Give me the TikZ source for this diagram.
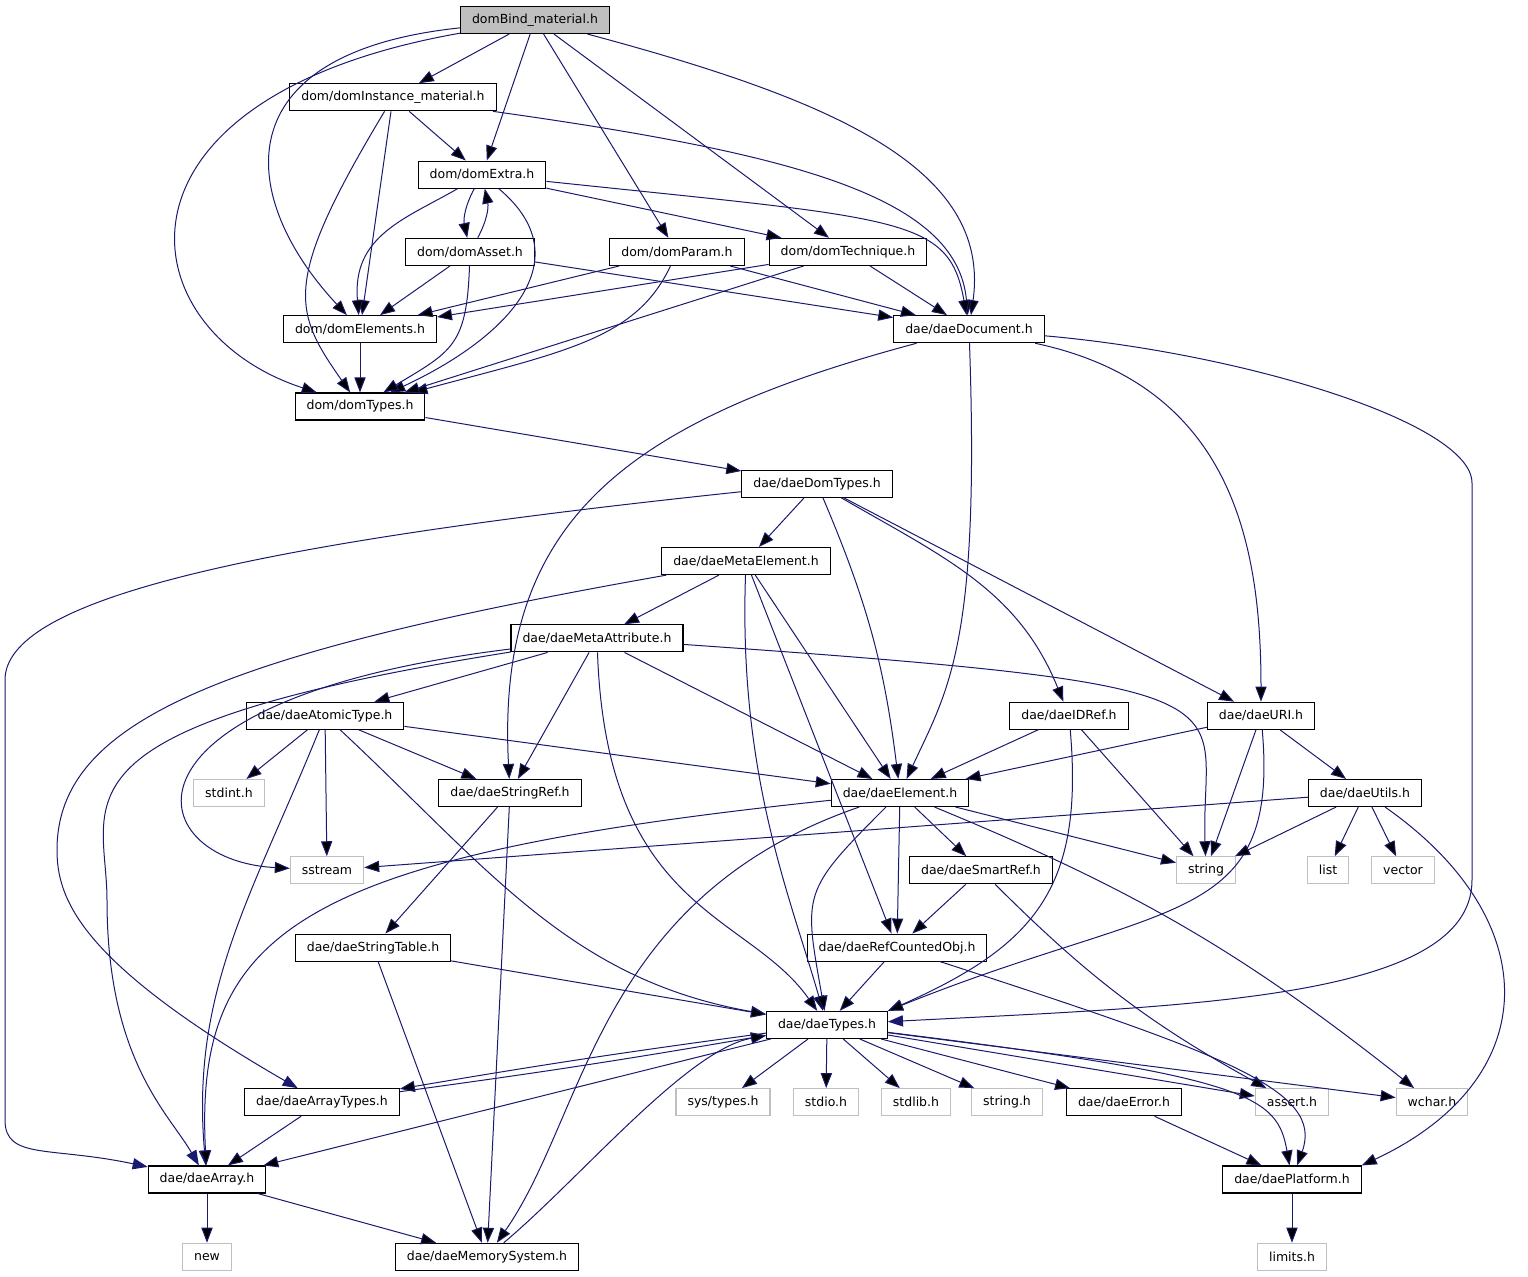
\documentclass[tikz,border=0pt]{standalone}
\usepackage{fontspec}
\setmainfont{DejaVu Sans}
\usetikzlibrary{arrows.meta,positioning}
\definecolor{edgeblue}{HTML}{191970}
\definecolor{sysgray}{HTML}{BFBFBF}
\tikzset{
  hdr/.style={draw=black, line width=0.55pt, rectangle, inner xsep=5.75pt, inner ysep=0pt,
    minimum height=13.5pt, font=\fontsize{6.25pt}{7.5pt}\selectfont},
  sys/.style={hdr, draw=sysgray},
  roothdr/.style={hdr, fill=sysgray},
  dep/.style={-{Triangle[length=7.5pt,width=5.6pt]}, draw=edgeblue, line width=0.5pt}
}
\begin{document}
\begin{tikzpicture}[node distance=38.65pt,on grid]
    \useasboundingbox (0,0) rectangle (764pt,-638.5pt);
    \node[roothdr] (bind) at (267.5pt,-10pt) {domBind\_material.h};
    \node[hdr] (inst) [below left=38.65pt and 71pt of bind] {dom/domInstance\_material.h};
    \node[hdr] (extra) [below right=38.65pt and 44.5pt of inst] {dom/domExtra.h};
    \node[hdr] (asset) [below left=38.65pt and 6pt of extra] {dom/domAsset.h};
    \node[hdr] (param) [right=103.5pt of asset] {dom/domParam.h};
    \node[hdr] (tech) [right=85.5pt of param] {dom/domTechnique.h};
    \node[hdr] (elements) [below left=38.65pt and 55pt of asset] {dom/domElements.h};
    \node[hdr] (document) [right=304.5pt of elements] {dae/daeDocument.h};
    \node[hdr] (domtypes) [below=of elements] {dom/domTypes.h};
    \node[hdr] (daedomtypes) [below right=38.65pt and 228.5pt of domtypes] {dae/daeDomTypes.h};
    \node[hdr] (metaelem) [below left=38.65pt and 35.5pt of daedomtypes] {dae/daeMetaElement.h};
    \node[hdr] (metaattr) [below left=38.65pt and 74.5pt of metaelem] {dae/daeMetaAttribute.h};
    \node[hdr] (atomic) [below left=38.65pt and 136pt of metaattr] {dae/daeAtomicType.h};
    \node[hdr] (idref) [right=372pt of atomic] {dae/daeIDRef.h};
    \node[hdr] (uri) [right=96pt of idref] {dae/daeURI.h};
    \node[sys] (stdint) [below left=38.65pt and 48pt of atomic] {stdint.h};
    \node[hdr] (stringref) [right=140.5pt of stdint] {dae/daeStringRef.h};
    \node[hdr] (element) [right=195pt of stringref] {dae/daeElement.h};
    \node[hdr] (utils) [right=232.5pt of element] {dae/daeUtils.h};
    \node[sys] (sstream) [below right=38.65pt and 49pt of stdint] {sstream};
    \node[hdr] (smartref) [right=327pt of sstream] {dae/daeSmartRef.h};
    \node[sys] (string) [right=112.5pt of smartref] {string};
    \node[sys] (list) [right=61pt of string] {list};
    \node[sys] (vector) [right=37.5pt of list] {vector};
    \node[hdr] (stringtable) [below right=38.65pt and 23pt of sstream] {dae/daeStringTable.h};
    \node[hdr] (refcounted) [right=262pt of stringtable] {dae/daeRefCountedObj.h};
    \node[hdr] (types) [below left=38.65pt and 35pt of refcounted] {dae/daeTypes.h};
    \node[hdr] (arraytypes) [below left=38.65pt and 252.5pt of types] {dae/daeArrayTypes.h};
    \node[sys] (systypes) [right=200.5pt of arraytypes] {sys/types.h};
    \node[sys] (stdio) [right=51.5pt of systypes] {stdio.h};
    \node[sys] (stdlib) [right=45pt of stdio] {stdlib.h};
    \node[sys] (stringh) [right=45.5pt of stdlib] {string.h};
    \node[hdr] (error) [right=58.5pt of stringh] {dae/daeError.h};
    \node[sys] (assert) [right=84pt of error] {assert.h};
    \node[sys] (wchar) [right=70pt of assert] {wchar.h};
    \node[hdr] (array) [below left=38.65pt and 57.5pt of arraytypes] {dae/daeArray.h};
    \node[hdr] (platform) [right=542.5pt of array] {dae/daePlatform.h};
    \node[sys] (new) [below=of array] {new};
    \node[hdr] (memory) [right=140pt of new] {dae/daeMemorySystem.h};
    \node[sys] (limits) [below=of platform] {limits.h};
    % bends of the long connectors round the sides
    \coordinate (r_top) at (736pt,-241.5pt);
    \coordinate (r_bot) at (736pt,-440pt);
    \coordinate (l_top) at (2.5pt,-340pt);
    \coordinate (l_bot) at (2.5pt,-560pt);
    \coordinate (m_bend) at (28.5pt,-425pt);
    \coordinate (a_bend) at (53.5pt,-450pt);
      \path[dep]
          (bind) edge (inst)
                 edge (extra)
                 edge (param)
                 edge (tech)
                 edge [out=-15, in=82, out distance=125pt, in distance=75pt] (document)
                 edge [out=186, in=133, out distance=120pt, in distance=80pt] (elements)
                 edge [out=190, in=162, out distance=187pt, in distance=100pt] (domtypes)
          (inst) edge (extra)
                 edge (elements)
                 edge [out=239, in=125, out distance=100pt, in distance=50pt] (domtypes)
                 edge [out=-8, in=95, out distance=150pt, in distance=60pt] (document)
          (extra) edge [bend right=20] (asset)
                  edge (tech)
                  edge [out=-6, in=100, out distance=180pt, in distance=50pt] (document)
                  edge [out=210, in=95, out distance=30pt, in distance=40pt] (elements)
                  edge [out=-40, in=25, out distance=55pt, in distance=65pt] (domtypes)
          (asset) edge [bend right=20] (extra)
                  edge (elements)
                  edge [out=-92, in=31, out distance=40pt, in distance=40pt] (domtypes)
                  edge (document)
          (param) edge (elements)
                  edge [out=-115, in=15, out distance=40pt, in distance=80pt] (domtypes)
                  edge (document)
          (tech) edge (elements)
                 edge (domtypes)
                 edge (document)
          (elements) edge (domtypes)
          (document) edge [out=195, in=93, out distance=150pt, in distance=130pt] (stringref)
                     edge [out=-88, in=65, out distance=150pt, in distance=50pt] (element)
                     edge [out=-12, in=90, out distance=100pt, in distance=80pt] (uri)
          (domtypes) edge (daedomtypes)
          (daedomtypes) edge (metaelem)
                        edge [bend left=8] (element)
                        edge [out=-30, in=112, out distance=60pt, in distance=60pt] (idref)
                        edge (uri)
          (metaelem) edge (metaattr)
                     edge [out=-92, in=106, out distance=100pt, in distance=60pt] (types)
                     edge (refcounted)
                     edge (element)
          (metaattr) edge (atomic)
                     edge (stringref)
                     edge [out=-88, in=125, out distance=130pt, in distance=60pt] (types)
                     edge (element)
                     edge [out=-4, in=92, out distance=300pt, in distance=80pt] (string)
                     edge [out=187, in=177, out distance=207pt, in distance=75pt] (sstream)
          (atomic) edge (stdint)
                   edge (sstream)
                   edge (stringref)
                   edge (element)
                   edge [out=-112, in=95] (array)
                   edge [out=-43, in=170] (types)
          (idref) edge (element)
                  edge (string)
                  edge [out=-85, in=24, out distance=80pt, in distance=80pt] (types.north east)
          (uri) edge (element)
                edge (string)
                edge (utils)
                edge [out=-85, in=22, out distance=100pt, in distance=150pt] (types.north east)
          (utils) edge (sstream)
                  edge (string)
                  edge (list)
                  edge (vector)
                  edge [out=-35, in=25, out distance=100pt, in distance=100pt] (platform.north east)
          (stringref) edge (stringtable)
                      edge (memory)
          (element) edge (smartref)
                    edge (refcounted)
                    edge (string)
                    edge [out=-135, in=100, out distance=60pt, in distance=60pt] (types)
                    edge [bend left=8] (wchar)
                    edge [out=186, in=93, out distance=267pt, in distance=118pt] (array)
                    edge [out=199, in=55, out distance=139pt, in distance=78pt] (memory)
          (smartref) edge (refcounted)
                     edge [bend right=8] (assert)
          (stringtable) edge (types)
                        edge (memory)
          (refcounted) edge (types)
                       edge [out=-18, in=70, out distance=150pt, in distance=40pt] (platform)
          (types) edge [bend right=1] (arraytypes)
                  edge (systypes)
                  edge (stdio)
                  edge (stdlib)
                  edge (stringh)
                  edge (error)
                  edge (assert)
                  edge (wchar)
                  edge [out=-7, in=100, out distance=183pt, in distance=35pt] (platform)
                  edge (array)
          (arraytypes) edge [bend right=1] (types)
                       edge (array)
          (array) edge (new)
                  edge (memory)
          (memory) edge [out=40, in=190, out distance=50pt, in distance=40pt] (types)
          (error) edge (platform)
          (platform) edge (limits);
    \draw[dep] (document) to[out=-5, in=90, out distance=100pt, in distance=30pt] (r_top)
        -- (r_bot) to[out=-90, in=3, out distance=60pt, in distance=150pt] (types);
    \draw[dep] (daedomtypes) to[out=186, in=90, out distance=250pt, in distance=40pt] (l_top)
        -- (l_bot) to[out=-90, in=168, out distance=20pt, in distance=50pt] (array);
    \draw[dep] (metaelem) to[out=190, in=90, out distance=225pt, in distance=65pt] (m_bend)
        to[out=-90, in=150, out distance=25pt, in distance=125pt] (arraytypes);
    \draw[dep] (metaattr) to[out=189, in=90, out distance=240pt, in distance=50pt] (a_bend)
        to[out=-90, in=120, out distance=80pt, in distance=30pt] (array);
  \end{tikzpicture}
\end{document}
